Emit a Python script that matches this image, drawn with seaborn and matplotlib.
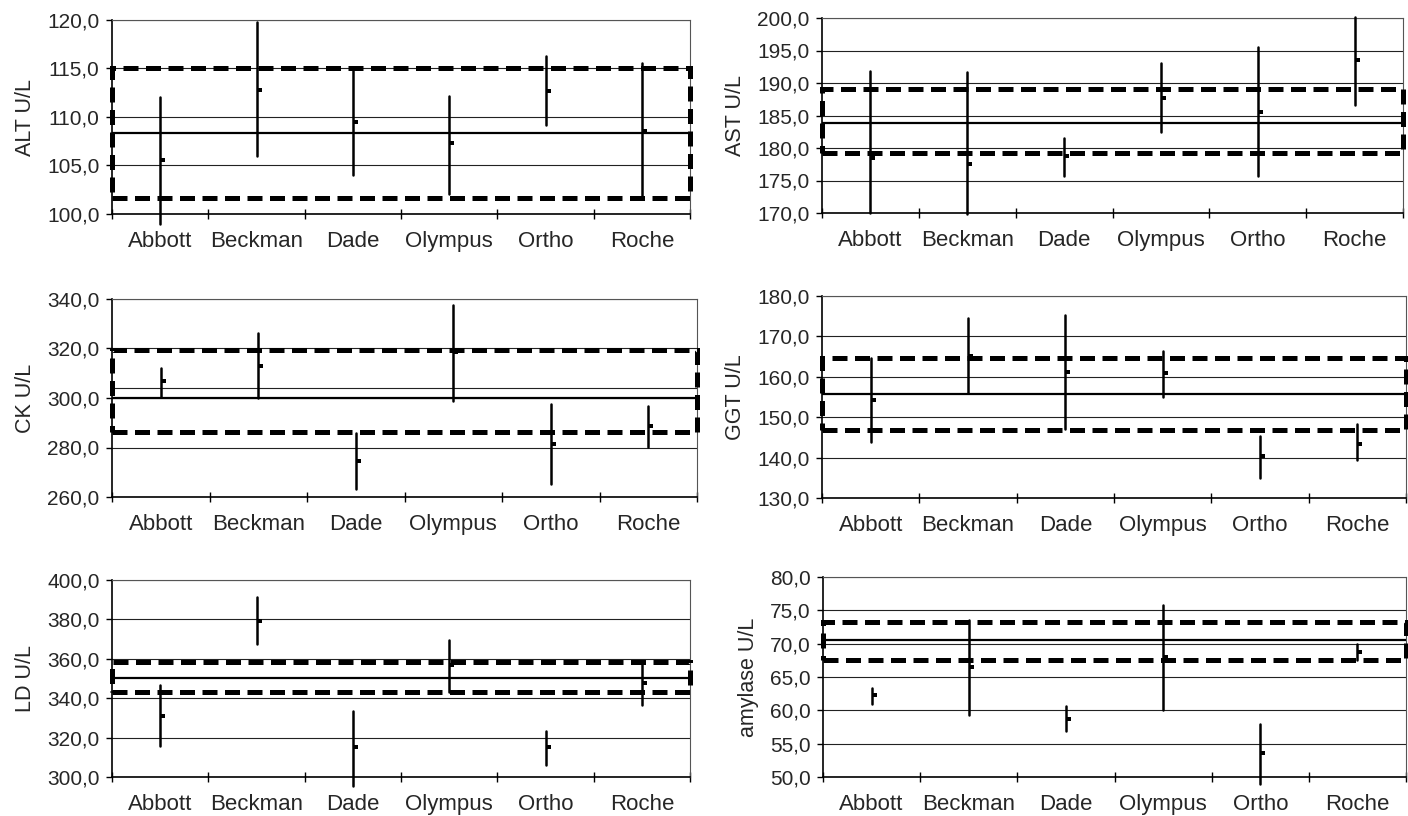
import numpy as np
import pandas as pd
import matplotlib
matplotlib.use("Agg")
import matplotlib.pyplot as plt
from matplotlib.path import Path
from matplotlib.patches import Rectangle
from matplotlib.ticker import FuncFormatter, FixedLocator
import seaborn as sns

# ---------------- data ----------------
labs = ['Abbott', 'Beckman', 'Dade', 'Olympus', 'Ortho', 'Roche']

alt_high = [112.1, 119.8, 115.0, 112.2, 116.3, 115.6]
alt_low = [99.0, 106.0, 104.0, 102.1, 109.2, 101.7]
alt_mean = [105.6, 112.8, 109.5, 107.3, 112.7, 108.6]

ast_high = [191.9, 191.7, 181.5, 193.1, 195.6, 200.2]
ast_low = [170.0, 169.8, 175.7, 182.5, 175.7, 186.6]
ast_mean = [178.4, 177.6, 178.8, 187.7, 185.5, 193.5]

ck_high = [312.0, 326.4, 285.8, 337.6, 297.5, 296.6]
ck_low = [300.6, 300.0, 263.4, 298.6, 265.4, 280.2]
ck_mean = [306.7, 313.0, 274.4, 318.4, 281.5, 288.5]

ggt_high = [164.6, 174.5, 175.3, 166.5, 145.4, 148.3]
ggt_low = [143.8, 156.1, 147.1, 155.1, 134.9, 139.5]
ggt_mean = [154.3, 165.2, 161.1, 160.9, 140.3, 143.3]

ld_high = [346.5, 391.6, 333.3, 369.3, 323.5, 359.0]
ld_low = [315.5, 367.4, 295.3, 342.9, 306.3, 336.5]
ld_mean = [331.1, 379.4, 315.0, 356.9, 315.0, 347.6]

amy_high = [63.35, 73.6, 60.6, 75.75, 57.95, 70.0]
amy_low = [61.0, 59.35, 56.85, 60.0, 49.0, 67.6]
amy_mean = [62.35, 66.5, 58.7, 68.0, 53.6, 68.7]

panel_names = ['ALT U/L', 'AST U/L', 'CK U/L', 'GGT U/L', 'LD U/L', 'amylase U/L']
highs = [alt_high, ast_high, ck_high, ggt_high, ld_high, amy_high]
lows = [alt_low, ast_low, ck_low, ggt_low, ld_low, amy_low]
means = [alt_mean, ast_mean, ck_mean, ggt_mean, ld_mean, amy_mean]

target = [108.3, 183.8, 299.8, 155.8, 350.3, 70.6]
lim_low = [101.6, 179.2, 286.1, 146.9, 342.9, 67.5]
lim_high = [115.0, 189.0, 319.2, 164.6, 358.6, 73.25]
extra_line = [None, None, 304.0, None, None, None]

y_min = [100, 170, 260, 130, 300, 50]
y_max = [120, 200, 340, 180, 400, 80]
y_step = [5, 5, 20, 10, 20, 5]

# ---------------- layout (pixel boxes: left, right, top, bottom) ----------------
W, H = 1408, 816
boxes = [(112, 690, 20, 214), (822, 1403, 18, 213),
         (112, 697, 299, 497), (822, 1406, 296, 498),
         (112, 690, 580, 777), (823, 1406, 577, 777)]

sns.set_style("white")
plt.rcParams['font.family'] = ['Liberation Sans', 'DejaVu Sans']
plt.rcParams['font.size'] = 15

fig = plt.figure(figsize=(W / 100, H / 100), dpi=100)

# close marker: small square sitting right of the range line
close_marker = Path([(0.0, -0.35), (1.0, -0.35), (1.0, 0.35), (0.0, 0.35), (0.0, -0.35)],
                    [Path.MOVETO, Path.LINETO, Path.LINETO, Path.LINETO, Path.CLOSEPOLY])

comma = FuncFormatter(lambda v, p: f"{v:.1f}".replace('.', ','))

for i, name in enumerate(panel_names):
    l, r, t, b = boxes[i]
    ax = fig.add_axes([l / W, 1 - b / H, (r - l) / W, (b - t) / H])

    df = pd.DataFrame({
        'lab': labs + labs,
        'val': list(lows[i]) + list(highs[i]),
    })
    sns.lineplot(data=df, x='lab', y='val', units='lab', estimator=None, sort=False,
                 color='black', lw=1.8, ax=ax, zorder=4, clip_on=False)
    sns.scatterplot(x=labs, y=means[i], marker=close_marker, s=46, color='black',
                    linewidth=0, ax=ax, zorder=5)

    # horizontal gridlines
    ticks = np.arange(y_min[i], y_max[i] + 0.001, y_step[i])
    for v in ticks:
        ax.axhline(v, color='#222222', lw=0.8, zorder=1)

    ax.axhline(target[i], color='black', lw=1.6, zorder=3)
    if extra_line[i] is not None:
        ax.axhline(extra_line[i], color='#222222', lw=0.8, zorder=3)

    # dashed tolerance box
    rect = Rectangle((-0.5, lim_low[i]), 6, lim_high[i] - lim_low[i], fill=False,
                     edgecolor='black', lw=3.6, linestyle=(0, (3.0, 1.5)),
                     clip_on=False, zorder=6)
    ax.add_patch(rect)

    ax.set_xlim(-0.5, 5.5)
    ax.set_ylim(y_min[i], y_max[i])
    ax.yaxis.set_major_locator(FixedLocator(ticks))
    ax.yaxis.set_major_formatter(comma)
    ax.set_xticks(range(len(labs)))
    ax.set_xticklabels(labs)
    ax.xaxis.set_minor_locator(FixedLocator(np.arange(-0.5, 6, 1.0)))
    ax.tick_params(axis='x', which='major', length=0, pad=12, labelsize=16)
    ax.tick_params(axis='x', which='minor', direction='inout', length=6.5, width=1.0,
                   color='black', bottom=True)
    ax.tick_params(axis='y', which='major', direction='out', length=4, width=1.0,
                   color='black', left=True, pad=5, labelsize=15)
    ax.set_xlabel('')
    ax.set_ylabel(name, fontsize=15.5, labelpad=8)

    for s in ['left', 'bottom']:
        ax.spines[s].set_color('black')
        ax.spines[s].set_linewidth(1.2)
    for s in ['top', 'right']:
        ax.spines[s].set_color('#555555')
        ax.spines[s].set_linewidth(0.8)

fig.savefig('out.png', dpi=100)
